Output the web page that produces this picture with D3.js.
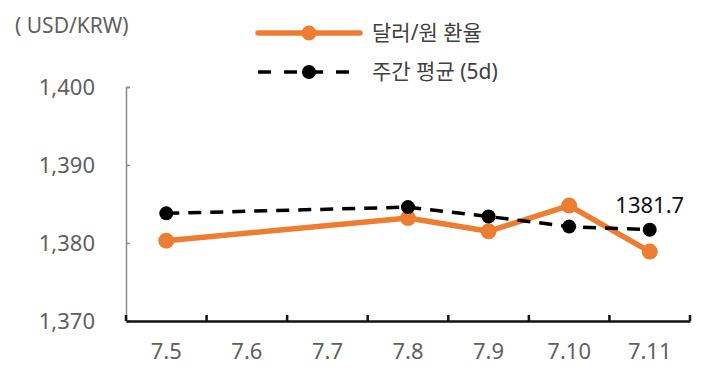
<!DOCTYPE html>
<html>
<head>
<meta charset="utf-8">
<script src="https://cdn.jsdelivr.net/npm/d3@7"></script>
<style>
  body { margin: 0; background: #fff; }
  svg { display: block; }
  svg text { font-family: "Noto Sans", "Noto Sans CJK KR", sans-serif; }
</style>
</head>
<body>
<script>
// dates on the x axis
const dates = ["7.5", "7.6", "7.7", "7.8", "7.9", "7.10", "7.11"];
// USD/KRW daily rate (no value on 7.6, 7.7)
const rate = [1380.3, null, null, 1383.2, 1381.5, 1384.8, 1378.9];
// weekly (5d) average
const avg5d = [1383.8, null, null, 1384.6, 1383.4, 1382.1, 1381.7];
const yTicks = [1370, 1380, 1390, 1400];
const seriesNames = ["달러/원 환율", "주간 평균 (5d)"];
const unitLabel = "( USD/KRW)";

const W = 709, H = 379;
const orange = "#ED7D31";

const svg = d3.select("body").append("svg")
    .attr("width", W)
    .attr("height", H);

const x = d3.scaleBand().domain(dates).range([126, 690]);
const y = d3.scaleLinear().domain([1370, 1400]).range([321, 87]);
const cx = d => x(d) + x.bandwidth() / 2;

// y axis (gray, ticks pointing inside)
const yAxis = svg.append("g")
    .attr("transform", "translate(126,0)")
    .call(d3.axisLeft(y).tickValues(yTicks).tickFormat(d3.format(",")).tickSize(-4).tickPadding(31));
yAxis.select(".domain").attr("stroke", "#888").attr("stroke-width", 1.5);
yAxis.selectAll(".tick line").attr("stroke", "#888").attr("stroke-width", 1.5);
yAxis.selectAll("text").attr("fill", "#5f5f5f").style("font-size", "22px");

// x axis (black, ticks at band edges)
const xAxis = svg.append("g")
    .attr("transform", "translate(0,321)")
    .call(d3.axisBottom(x).tickSize(0).tickPadding(22).tickSizeOuter(0));
xAxis.select(".domain").attr("stroke", "#111").attr("stroke-width", 2.5);
xAxis.selectAll("text").attr("fill", "#5f5f5f").style("font-size", "22px");
const edges = dates.map(d => x(d)).concat([x.range()[1]]);
xAxis.selectAll(".edge").data(edges).enter().append("line")
    .attr("x1", d => d).attr("x2", d => d)
    .attr("y1", 0).attr("y2", -6)
    .attr("stroke", "#111").attr("stroke-width", 2.5);

function pts(vals) {
  return dates.map((d, i) => ({ d, v: vals[i] })).filter(p => p.v != null);
}
const line = d3.line().x(p => cx(p.d)).y(p => y(p.v));

// daily rate
const p1 = pts(rate);
svg.append("path").datum(p1)
    .attr("d", line).attr("fill", "none")
    .attr("stroke", orange).attr("stroke-width", 5.5)
    .attr("stroke-linejoin", "round");
svg.selectAll(".m1").data(p1).enter().append("circle")
    .attr("cx", p => cx(p.d)).attr("cy", p => y(p.v)).attr("r", 8)
    .attr("fill", orange);

// 5d average
const p2 = pts(avg5d);
svg.append("path").datum(p2)
    .attr("d", line).attr("fill", "none")
    .attr("stroke", "#000").attr("stroke-width", 3.5)
    .attr("stroke-dasharray", "13,9");
svg.selectAll(".m2").data(p2).enter().append("circle")
    .attr("cx", p => cx(p.d)).attr("cy", p => y(p.v)).attr("r", 7)
    .attr("fill", "#000");

// last value label
const last = p2[p2.length - 1];
svg.append("text")
    .attr("x", cx(last.d)).attr("y", y(last.v) - 17)
    .attr("text-anchor", "middle")
    .attr("fill", "#111")
    .style("font-size", "22px")
    .text(last.v.toFixed(1));

// unit label
svg.append("text")
    .attr("x", 15).attr("y", 33)
    .attr("fill", "#5f5f5f")
    .style("font-size", "21px")
    .text(unitLabel);

// legend
const legend = svg.append("g");
const lg = [
  { name: seriesNames[0], y: 33, color: orange, w: 5.5, dash: null, r: 7.5 },
  { name: seriesNames[1], y: 72, color: "#000", w: 3.5, dash: "13,13", r: 7 }
];
lg.forEach(s => {
  legend.append("line")
      .attr("x1", 258).attr("x2", 360).attr("y1", s.y).attr("y2", s.y)
      .attr("stroke", s.color).attr("stroke-width", s.w)
      .attr("stroke-linecap", s.dash ? "butt" : "round")
      .attr("stroke-dasharray", s.dash);
  legend.append("circle").attr("cx", 309).attr("cy", s.y).attr("r", s.r).attr("fill", s.color);
  legend.append("text")
      .attr("x", 372).attr("y", s.y).attr("dy", "0.35em")
      .attr("fill", "#404040")
      .style("font-size", "21px")
      .text(s.name);
});
</script>
</body>
</html>
